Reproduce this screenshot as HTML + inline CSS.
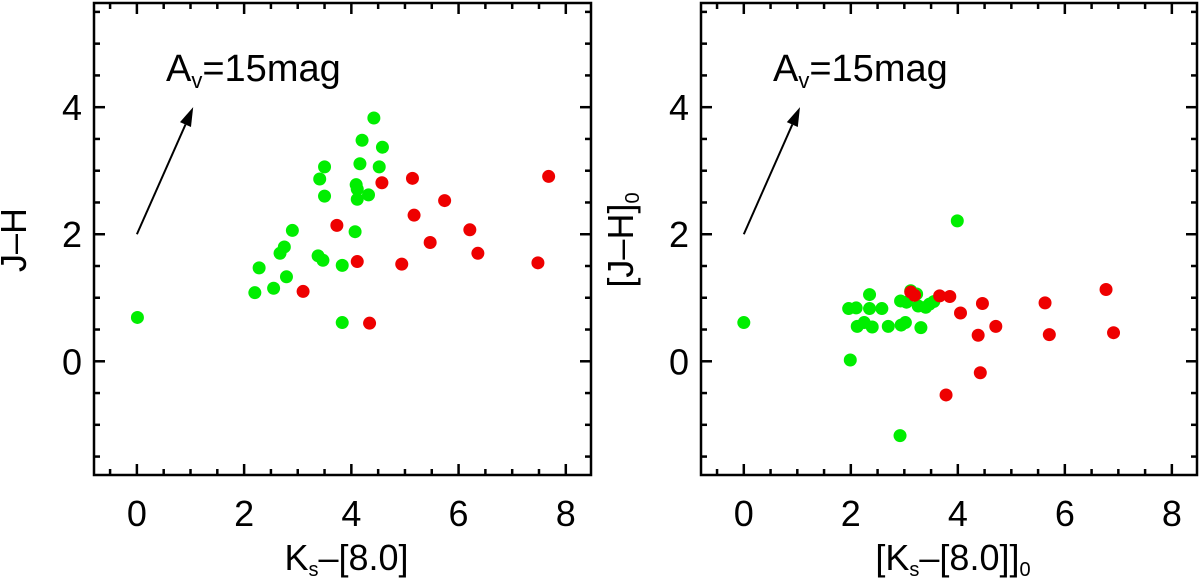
<!DOCTYPE html>
<html><head><meta charset="utf-8">
<style>
html,body{margin:0;padding:0;background:#fff;}
svg{display:block;font-family:"Liberation Sans",Arial,sans-serif;}
</style></head>
<body>
<svg id="chart" width="1200" height="578" viewBox="0 0 1200 578" xmlns="http://www.w3.org/2000/svg"></svg>
<script>
// Shared axis settings
const xTicks = [0, 2, 4, 6, 8];
const yTicks = [0, 2, 4];
const xDomain = [-0.8, 8.47];
const yDomain = [-1.79, 5.64];
const arrowStart = [0, 2];
const arrowEnd = [1.05, 4.0];

// Left panel data (Ks-[8.0], J-H)
const leftGreenX = [0.01,4.42,4.20,4.58,3.50,4.16,4.52,3.41,4.09,4.11,4.32,3.50,4.11,2.90,4.07,2.75,2.67,3.38,3.47,3.83,2.28,2.79,2.55,2.20,3.83];
const leftGreenY = [0.69,3.83,3.48,3.37,3.06,3.11,3.06,2.87,2.78,2.71,2.62,2.60,2.55,2.06,2.04,1.80,1.70,1.66,1.59,1.51,1.47,1.33,1.15,1.08,0.61];
const leftRedX = [4.57,5.14,5.74,5.17,3.73,6.21,5.47,6.36,4.11,4.94,3.10,4.34,7.68,7.48];
const leftRedY = [2.81,2.88,2.53,2.30,2.14,2.07,1.87,1.70,1.57,1.53,1.10,0.60,2.91,1.55];

// Right panel data ([Ks-[8.0]]0, [J-H]0)
const rightGreenX = [0.0,3.99,2.35,1.96,2.10,2.35,2.58,2.93,3.04,3.12,3.23,3.26,3.40,3.47,3.55,2.12,2.25,2.40,2.70,2.94,3.02,3.31,1.99,2.92];
const rightGreenY = [0.61,2.21,1.05,0.83,0.84,0.83,0.83,0.95,0.93,1.11,1.06,0.87,0.85,0.90,0.94,0.55,0.61,0.54,0.55,0.57,0.61,0.53,0.02,-1.17];
const rightRedX = [3.12,3.19,3.66,3.85,4.05,4.46,4.71,4.38,4.42,3.78,5.63,5.71,6.77,6.91];
const rightRedY = [1.09,1.04,1.03,1.02,0.76,0.91,0.55,0.41,-0.18,-0.53,0.92,0.42,1.13,0.45];

const NS = "http://www.w3.org/2000/svg";
const svg = document.getElementById('chart');
function mk(tag, attrs, parent){
  const e = document.createElementNS(NS, tag);
  for (const k in attrs) e.setAttribute(k, attrs[k]);
  (parent||svg).appendChild(e);
  return e;
}

function panel(left, right, top, bottom, gx, gy, rx, ry, id, ytitle, xtitle){
  const g = mk('g', {});
  
  
  const sx = v => left + (v - xDomain[0]) / (xDomain[1] - xDomain[0]) * (right - left);
  const sy = v => bottom - (v - yDomain[0]) / (yDomain[1] - yDomain[0]) * (bottom - top);

  for (let v = -0.5; v <= 8.4; v += 0.5) {
    const major = Math.abs(v - Math.round(v/2)*2) < 1e-6;
    const len = major ? 11 : 6;
    const x = sx(v);
    const t1 = mk('line', {x1:x, x2:x, y1:bottom, y2:bottom-len, stroke:'#000','stroke-width':2.5}, g);
    
    
    const t2 = mk('line', {x1:x, x2:x, y1:top, y2:top+len, stroke:'#000','stroke-width':2.5}, g);
    
    
  }
  for (let v = -1.5; v <= 5.6; v += 0.5) {
    const major = Math.abs(v - Math.round(v/2)*2) < 1e-6;
    const len = major ? 11 : 6;
    const y = sy(v);
    const t1 = mk('line', {x1:left, x2:left+len, y1:y, y2:y, stroke:'#000','stroke-width':2.5}, g);
    
    
    const t2 = mk('line', {x1:right, x2:right-len, y1:y, y2:y, stroke:'#000','stroke-width':2.5}, g);
    
    
  }
  xTicks.forEach(v => {
    const t = mk('text', {x:sx(v), y:bottom+51, 'text-anchor':'middle', 'font-size':36}, g);
    t.textContent = v;
    
    
  });
  yTicks.forEach(v => {
    const t = mk('text', {x:left-12, y:sy(v)+13, 'text-anchor':'end', 'font-size':36}, g);
    t.textContent = v;
    
    
  });

  const fr = mk('rect', {x:left, y:top, width:right-left, height:bottom-top, fill:'none', stroke:'#000', 'stroke-width':2.5}, g);
  
  

  const ax1 = sx(arrowStart[0]), ay1 = sy(arrowStart[1]);
  const ax2 = sx(arrowEnd[0]), ay2 = sy(arrowEnd[1]);
  const ang = Math.atan2(ay2-ay1, ax2-ax1);
  const hl = 19, hw = 6;
  const bx = ax2 - hl*Math.cos(ang), by = ay2 - hl*Math.sin(ang);
  const ln = mk('line', {x1:ax1, y1:ay1, x2:bx, y2:by, stroke:'#000', 'stroke-width':2}, g);
  
  
  const px = -Math.sin(ang), py = Math.cos(ang);
  const hd = mk('polygon', {points:`${ax2},${ay2} ${bx+hw*px},${by+hw*py} ${bx-hw*px},${by-hw*py}`, fill:'#000'}, g);
  
  
  const lab = mk('text', {x:left+72, y:81, 'font-size':38}, g);
  lab.innerHTML = 'A<tspan font-size="22" dy="7">v</tspan><tspan dy="-7">=15mag</tspan>';
  
  

  gx.forEach((v,i) => {
    const c = mk('circle', {cx:sx(v), cy:sy(gy[i]), r:6.5, fill:'#00ee00'}, g);
    
    
  });
  rx.forEach((v,i) => {
    const c = mk('circle', {cx:sx(v), cy:sy(ry[i]), r:6.5, fill:'#ee0000'}, g);
    
    
  });

  const xt = mk('text', {x:(left+right)/2+4, y:570, 'text-anchor':'middle', 'font-size':36}, g);
  xt.innerHTML = xtitle;
  
  
  const tx = left - 68, ty = 240;
  const yt = mk('text', {x:tx, y:ty, 'text-anchor':'middle', 'font-size':36, transform:`rotate(-90 ${tx} ${ty})`}, g);
  yt.innerHTML = ytitle;
  
  
}

panel(94, 591, 3, 475, leftGreenX, leftGreenY, leftRedX, leftRedY, 'left',
  'J–H', 'K<tspan font-size="20" dy="6">s</tspan><tspan dy="-6">–[8.0]</tspan>');
panel(701, 1197, 3, 475, rightGreenX, rightGreenY, rightRedX, rightRedY, 'right',
  '[J–H]<tspan font-size="20" dy="6">0</tspan>',
  '[K<tspan font-size="20" dy="6">s</tspan><tspan dy="-6">–[8.0]]</tspan><tspan font-size="20" dy="6">0</tspan>');
</script>
</body></html>
